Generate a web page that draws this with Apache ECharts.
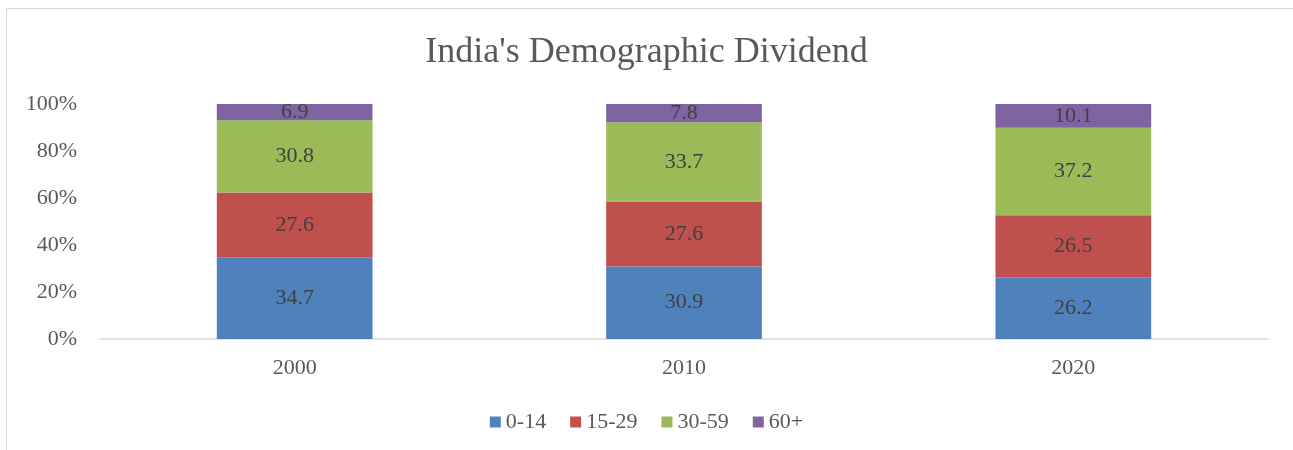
<!DOCTYPE html>
<html>
<head>
<meta charset="utf-8">
<script src="https://cdn.jsdelivr.net/npm/echarts@6/dist/echarts.min.js"></script>
<style>
    html, body { margin: 0; padding: 0; background: #fff; }
    #frame { position: absolute; left: 6px; top: 8px; width: 1300px; height: 460px; border: 1px solid #d9d9d9; box-sizing: border-box; }
    #chart { position: absolute; left: 0; top: 0; width: 1293px; height: 450px; }
</style>
</head>
<body>
<div id="frame"></div>
<div id="chart"></div>
<script>
const years = ['2000', '2010', '2020']
const groups = ['0-14', '15-29', '30-59', '60+']
const age0to14 = [34.7, 30.9, 26.2]
const age15to29 = [27.6, 27.6, 26.5]
const age30to59 = [30.8, 33.7, 37.2]
const age60plus = [6.9, 7.8, 10.1]
const yTicks = [0, 20, 40, 60, 80, 100]

const colors = ['#4f81bd', '#c0504d', '#9bbb59', '#8064a2']
const font = 'Liberation Serif, Times New Roman, serif'
const values = [age0to14, age15to29, age30to59, age60plus]

const chart = echarts.init(document.getElementById('chart'))

const series = groups.map((name, i) => {
    return {
        name: name,
        type: 'bar',
        stack: 'total',
        barWidth: '40%',
        itemStyle: { color: colors[i] },
        label: {
            show: true,
            position: 'inside',
            color: '#404040',
            fontFamily: font,
            fontSize: 22,
            formatter: (p) => p.value.toFixed(1)
        },
        emphasis: { disabled: true },
        data: values[i]
    }
})

const option = {
    backgroundColor: 'transparent',
    animation: false,
    title: {
        text: "India's Demographic Dividend",
        left: 'center',
        top: 30,
        textStyle: { fontFamily: font, fontSize: 36, fontWeight: 'normal', color: '#595959' }
    },
    legend: {
        bottom: 12,
        left: 'center',
        icon: 'rect',
        itemWidth: 11,
        itemHeight: 11,
        itemGap: 24,
        textStyle: { fontFamily: font, fontSize: 22, color: '#595959' },
        data: groups
    },
    grid: { left: 100, right: 25, top: 104, bottom: 111 },
    xAxis: {
        type: 'category',
        data: years,
        axisTick: { show: false },
        axisLine: { lineStyle: { color: '#d9d9d9', width: 1.5 } },
        axisLabel: { color: '#595959', fontFamily: font, fontSize: 22, margin: 18 }
    },
    yAxis: {
        type: 'value',
        min: yTicks[0],
        max: yTicks[yTicks.length - 1],
        interval: 20,
        splitLine: { show: false },
        axisLine: { show: false },
        axisTick: { show: false },
        axisLabel: { color: '#595959', fontFamily: font, fontSize: 22, margin: 23, formatter: '{value}%' }
    },
    series: series
}

chart.setOption(option)
</script>
</body>
</html>
